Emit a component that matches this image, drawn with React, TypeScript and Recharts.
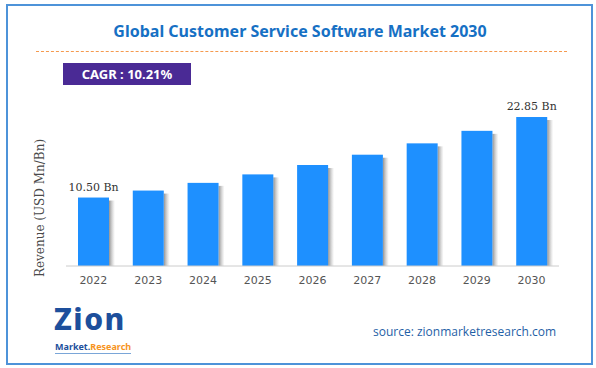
import React from "react";
import { Bar, BarChart, LabelList, XAxis, YAxis } from "recharts";

const years = ["2022", "2023", "2024", "2025", "2026", "2027", "2028", "2029", "2030"];
const revenue = [10.5, 11.57, 12.75, 14.05, 15.49, 17.07, 18.81, 20.73, 22.85];
const labelledYears = ["2022", "2030"];

const data = years.map((year, i) => ({ year, revenue: revenue[i] }));

const ShadowBar = (props: any) => {
  const { x, y, width, height } = props;
  if (!height || height <= 0) return null;
  return (
    <g>
      <rect x={x + width} y={y + 3} width={6} height={height - 3} fill="url(#barShadow)" />
      <rect x={x} y={y} width={width} height={height} fill="#1e90ff" />
    </g>
  );
};

const EndLabel = (props: any) => {
  const { x, y, width, value, index } = props;
  if (!labelledYears.includes(years[index])) return null;
  return (
    <text
      x={x + width / 2}
      y={y - 7}
      textAnchor="middle"
      fontFamily="DejaVu Serif"
      fontSize={11}
      fill="#333"
    >
      {Number(value).toFixed(2)} Bn
    </text>
  );
};

export default function App() {
  return (
    <div
      style={{
        position: "absolute",
        left: 0,
        top: 0,
        width: 596,
        height: 368,
        background: "#fff",
        overflow: "hidden",
      }}
    >
      <div
        style={{
          position: "absolute",
          left: 6,
          top: 4,
          width: 583,
          height: 357,
          border: "2px solid #4e93d9",
        }}
      />
      <div
        style={{
          position: "absolute",
          left: 0,
          width: 600,
          top: 20,
          textAlign: "center",
          fontFamily: "Noto Sans",
          fontWeight: 700,
          fontSize: 16,
          color: "#1670c4",
        }}
      >
        Global Customer Service Software Market 2030
      </div>
      <div
        style={{
          position: "absolute",
          left: 36,
          top: 51,
          width: 531,
          borderTop: "1.5px dashed #f59a4f",
        }}
      />
      <div
        style={{
          position: "absolute",
          left: 63,
          top: 63,
          width: 128,
          height: 22,
          background: "#4a2a95",
          color: "#fff",
          fontFamily: "Noto Sans",
          fontWeight: 700,
          fontSize: 13,
          lineHeight: "22px",
          textAlign: "center",
        }}
      >
        CAGR : 10.21%
      </div>
      <div
        style={{
          position: "absolute",
          left: 40,
          top: 208,
          transform: "translate(-50%, -50%) rotate(-90deg)",
          whiteSpace: "nowrap",
          fontFamily: "DejaVu Serif",
          fontSize: 12,
          color: "#4a4a4a",
        }}
      >
        Revenue (USD Mn/Bn)
      </div>
      <div style={{ position: "absolute", left: 0, top: 0 }}>
        <BarChart
          width={596}
          height={368}
          data={data}
          margin={{ top: 103, right: 37, bottom: 72, left: 66 }}
          barSize={31}
        >
          <defs>
            <linearGradient id="barShadow" x1="0" y1="0" x2="1" y2="0">
              <stop offset="0%" stopColor="#777" stopOpacity={0.8} />
              <stop offset="100%" stopColor="#aaa" stopOpacity={0} />
            </linearGradient>
          </defs>
          <XAxis
            dataKey="year"
            axisLine={{ stroke: "#cccccc" }}
            tickLine={false}
            tick={{ fill: "#555", fontSize: 11, fontFamily: "DejaVu Sans", dy: 2 }}
            height={30}
          />
          <YAxis hide domain={[0, 25]} />
          <Bar dataKey="revenue" shape={<ShadowBar />} isAnimationActive={false}>
            <LabelList dataKey="revenue" content={<EndLabel />} />
          </Bar>
        </BarChart>
      </div>
      <div
        style={{
          position: "absolute",
          left: 54,
          top: 304,
          fontFamily: "Noto Sans",
          fontWeight: 800,
          fontSize: 30,
          lineHeight: "30px",
          letterSpacing: 1.5,
          color: "#1d4f9c",
          whiteSpace: "nowrap",
        }}
      >
        Zion
      </div>
      <div
        style={{
          position: "absolute",
          left: 55,
          top: 341,
          fontFamily: "Noto Sans",
          fontWeight: 700,
          fontSize: 9,
          lineHeight: "12px",
          borderBottom: "1px solid #7aa6d8",
          whiteSpace: "nowrap",
        }}
      >
        <span style={{ color: "#1d4f9c" }}>Market.</span>
        <span style={{ color: "#f7941d" }}>Research</span>
      </div>
      <div
        style={{
          position: "absolute",
          left: 373,
          top: 323,
          fontFamily: "Open Sans",
          fontSize: 12,
          color: "#1f5fa6",
          whiteSpace: "nowrap",
        }}
      >
        source: zionmarketresearch.com
      </div>
    </div>
  );
}
